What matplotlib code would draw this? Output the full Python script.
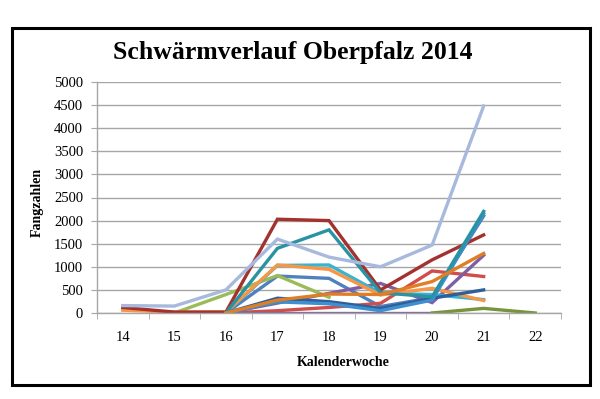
import numpy as np
import matplotlib
matplotlib.use("Agg")
import matplotlib.pyplot as plt
from matplotlib.patches import Rectangle

plt.rcParams['font.family'] = ['Liberation Serif', 'DejaVu Serif']

weeks = [14, 15, 16, 17, 18, 19, 20, 21, 22]

# values per series, None = no data that week
blue       = [None, None, 0, 800, 750, 140, 330, 2100, None]
red        = [None, None, 0, 50, 120, 210, 910, 790, None]
green      = [None, 0, 400, 810, 340, None, None, None, None]
purple     = [None, None, 0, 215, 425, 640, 225, 1250, None]
aqua       = [None, None, 0, 1030, 1040, 430, 400, 290, None]
orange     = [60, 20, 20, 1040, 945, 390, 535, 270, None]
dark_blue  = [None, None, 0, 320, 245, 100, 320, 500, None]
dark_red   = [120, 20, 20, 2030, 2000, 500, 1150, 1690, None]
zero_line  = [None, None, 0, 0, 0, 0, 0, None, None]
dark_green = [None, None, None, None, None, None, 0, 100, 0]
teal       = [None, None, 0, 1400, 1800, 440, 350, 2200, None]
dark_orange = [None, None, 0, 280, 410, 400, 680, 1290, None]
sky        = [None, None, 0, 240, 200, 50, 280, 2150, None]
lavender   = [160, 150, 500, 1600, 1210, 1000, 1470, 4480, None]

series = [
    (blue, '#4F81BD'),
    (red, '#CF4E4B'),
    (green, '#9BBB59'),
    (purple, '#7E5FA3'),
    (aqua, '#36B4D2'),
    (orange, '#F79646'),
    (dark_blue, '#2E5F9A'),
    (dark_red, '#A3322F'),
    (zero_line, '#7F63A1'),
    (dark_green, '#77943B'),
    (sky, '#3D8FCF'),
    (teal, '#2A93A3'),
    (dark_orange, '#E07E25'),
    (lavender, '#A7B9DD'),
]

fig = plt.figure(figsize=(6, 3.99), dpi=100)
ax = fig.add_axes([97/600, 1 - 313/399, (561 - 97)/600, (313 - 82)/399])

for vals, col in series:
    y = np.array([np.nan if v is None else v for v in vals], dtype=float)
    ax.plot(weeks, y, color=col, lw=2.4, solid_joinstyle='miter')

ax.set_xlim(13.5, 22.5)
ax.set_ylim(0, 5000)
ax.set_yticks(np.arange(0, 5001, 500))
ax.set_xticks(weeks)
ax.set_xticks(np.arange(13.5, 22.6, 1), minor=True)
ax.yaxis.grid(True, color='#A6A6A6', lw=1)
ax.set_axisbelow(True)

for s in ['top', 'right']:
    ax.spines[s].set_visible(False)
for s in ['left', 'bottom']:
    ax.spines[s].set_color('#A6A6A6')
    ax.spines[s].set_linewidth(1)

ax.tick_params(axis='y', length=4, color='#A6A6A6', pad=6, labelsize=10.5)
ax.tick_params(axis='x', which='major', length=0, pad=13, labelsize=10.5)
ax.tick_params(axis='x', which='minor', length=4, color='#A6A6A6')

fig.text(293/600, 1 - 53/399, 'Schwärmverlauf Oberpfalz 2014', ha='center', va='center',
         fontsize=18.5, fontweight='bold')
fig.text(37/600, 1 - 202/399, 'Fangzahlen', ha='center', va='center', rotation=90,
         fontsize=10, fontweight='bold')
fig.text(343/600, 1 - 363/399, 'Kalenderwoche', ha='center', va='center',
         fontsize=10, fontweight='bold')

fig.patches.append(Rectangle((12/600, 1 - 385/399), 578/600, 357/399, transform=fig.transFigure,
                             fill=False, edgecolor='black', lw=2.2))

fig.savefig('out.png', dpi=100)
